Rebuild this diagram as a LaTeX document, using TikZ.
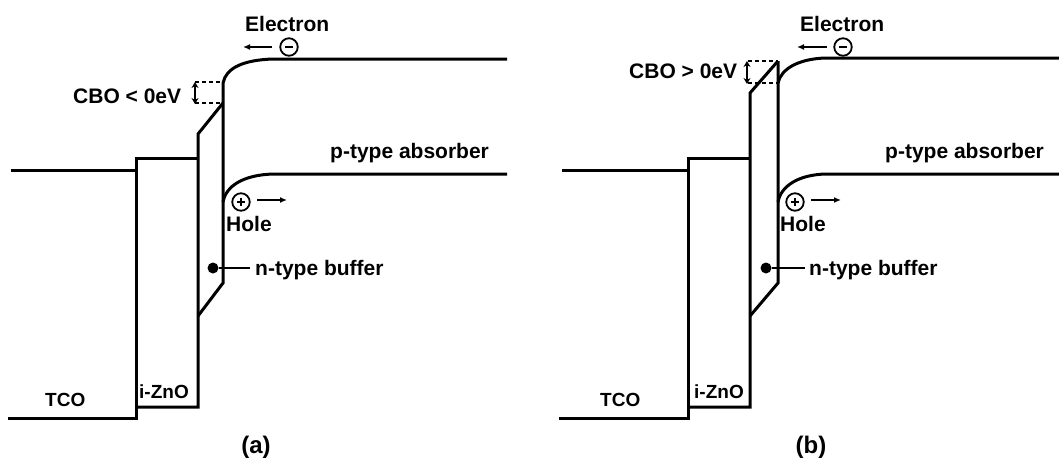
\documentclass[tikz,border=0pt]{standalone}
\usepackage{fontspec}
\setmainfont{Liberation Sans}
\usetikzlibrary{arrows.meta}
\begin{document}
\begin{tikzpicture}[x=1pt,y=-1pt,
  band/.style={line width=3pt, line join=miter},
  lbl/.style={font=\bfseries\fontsize{21}{25}\selectfont, inner sep=0pt, anchor=base west},
  slbl/.style={font=\bfseries\fontsize{19}{23}\selectfont, inner sep=0pt, anchor=base west},
  capt/.style={font=\bfseries\fontsize{24}{28}\selectfont, inner sep=0pt, anchor=base},
  carrier/.style={circle, draw, line width=1.8pt, minimum size=17.5pt, inner sep=0pt},
  sign/.style={line width=1.8pt},
  flow/.style={line width=1.8pt, -{Latex[length=7pt,width=6pt]}},
  offset/.style={line width=1.8pt, {Stealth[length=6pt,width=7pt]}-{Stealth[length=6pt,width=7pt]}},
  dashline/.style={line width=1.6pt, dash pattern=on 4pt off 3pt},
  dotmark/.style={circle, fill, minimum size=11pt, inner sep=0pt},
  lead/.style={line width=1.8pt}
]
\useasboundingbox (0,0) rectangle (1059,461);

% ================= Panel (a) =================
\draw[band] (11,170) -- (136,170);
\draw[band] (8,418) -- (136,418) -- (136,158) -- (198,158);
\draw[band] (136,407) -- (198,407) -- (198,134) -- (223,103);
\draw[band] (198,316) -- (223,283) -- (223,83) .. controls (226,68) and (243,60) .. (273,59) -- (507,59);
\draw[band] (223,202) .. controls (226,186) and (243,175) .. (273,174) -- (507,174);

% CBO
\draw[dashline] (195,82) -- (223,82);
\draw[dashline] (195,103) -- (223,103);
\coordinate (cboAtop) at (195,82);
\coordinate (cboAbot) at (195,104);
\draw[offset] (cboAtop) -- (cboAbot);
\node[lbl] (cboA) at (73,103) {CBO < 0eV};

% electron
\node[lbl] (elA) at (245,31) {Electron};
\node[carrier] (eA) at (289,47) {};
\draw[sign] ([xshift=-4pt]eA.center) -- ([xshift=4pt]eA.center);
\coordinate (eAs) at (272,47);
\coordinate (eAe) at (243,47);
\draw[flow] (eAs) -- (eAe);

% hole
\node[carrier] (hA) at (241,202) {};
\draw[sign] ([xshift=-4pt]hA.center) -- ([xshift=4pt]hA.center);
\draw[sign] ([yshift=-4pt]hA.center) -- ([yshift=4pt]hA.center);
\coordinate (hAs) at (257,200);
\coordinate (hAe) at (287,200);
\draw[flow] (hAs) -- (hAe);
\node[lbl] (holeA) at (226,231) {Hole};

% labels
\node[lbl] (pA) at (330,158) {p-type absorber};
\node[dotmark] (dA) at (213,268) {};
\node[lbl] (nA) at (255,275) {n-type buffer};
\coordinate (nAl) at (250,268);
\draw[lead] (dA) -- (nAl);
\node[slbl] (tcoA) at (45,406) {TCO};
\node[slbl] (znoA) at (139,398) {i-ZnO};
\node[capt] (capA) at (256,453) {(a)};

% ================= Panel (b) =================
\draw[band] (562,170) -- (688,170);
\draw[band] (559,418) -- (688,418) -- (688,158) -- (750,158);
\draw[band] (688,407) -- (750,407) -- (750,93) -- (778,61);
\draw[band] (750,316) -- (778,283) -- (778,61);
\draw[band] (778,83) .. controls (781,69) and (798,59) .. (825,58) -- (1059,58);
\draw[band] (778,202) .. controls (781,186) and (798,175) .. (825,174) -- (1059,174);

% CBO
\draw[dashline] (748,61) -- (778,61);
\draw[dashline] (748,83) -- (778,83);
\coordinate (cboBtop) at (747,61);
\coordinate (cboBbot) at (747,84);
\draw[offset] (cboBtop) -- (cboBbot);
\node[lbl] (cboB) at (629,78) {CBO > 0eV};

% electron
\node[lbl] (elB) at (800,31) {Electron};
\node[carrier] (eB) at (843,47) {};
\draw[sign] ([xshift=-4pt]eB.center) -- ([xshift=4pt]eB.center);
\coordinate (eBs) at (827,47);
\coordinate (eBe) at (797,47);
\draw[flow] (eBs) -- (eBe);

% hole
\node[carrier] (hB) at (795,202) {};
\draw[sign] ([xshift=-4pt]hB.center) -- ([xshift=4pt]hB.center);
\draw[sign] ([yshift=-4pt]hB.center) -- ([yshift=4pt]hB.center);
\coordinate (hBs) at (811,200);
\coordinate (hBe) at (841,200);
\draw[flow] (hBs) -- (hBe);
\node[lbl] (holeB) at (780,231) {Hole};

% labels
\node[lbl] (pB) at (885,158) {p-type absorber};
\node[dotmark] (dB) at (766,268) {};
\node[lbl] (nB) at (809,275) {n-type buffer};
\coordinate (nBl) at (805,268);
\draw[lead] (dB) -- (nBl);
\node[slbl] (tcoB) at (600,406) {TCO};
\node[slbl] (znoB) at (694,398) {i-ZnO};
\node[capt] (capB) at (811,453) {(b)};
\end{tikzpicture}
\end{document}
